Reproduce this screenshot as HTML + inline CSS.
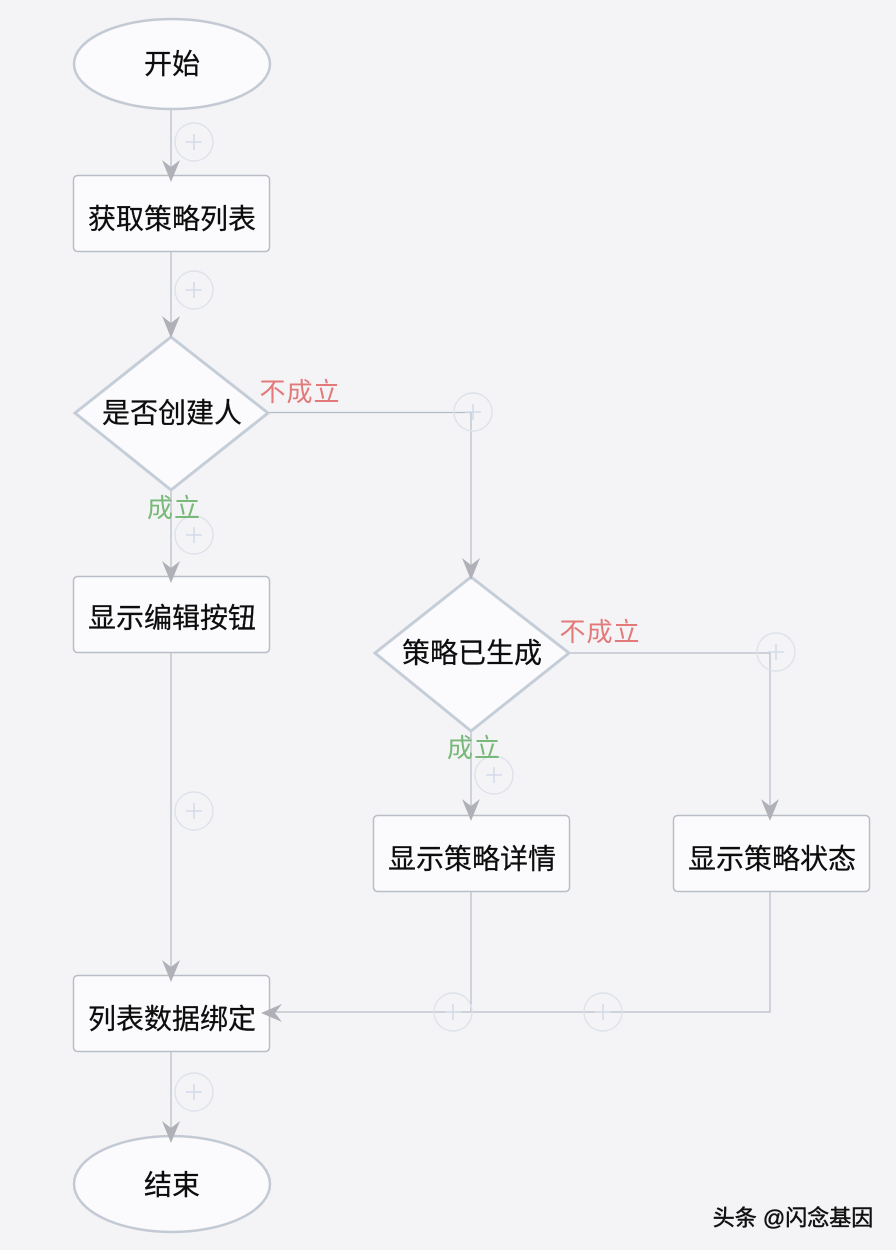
<!DOCTYPE html>
<html><head><meta charset="utf-8">
<style>
html,body{margin:0;padding:0;background:#f4f4f7;}
svg{display:block;}
text{font-family:"Liberation Sans","Noto Sans CJK SC",sans-serif;}
</style></head>
<body>
<svg width="896" height="1250" viewBox="0 0 896 1250" xmlns="http://www.w3.org/2000/svg">
<rect x="0" y="0" width="896" height="1250" fill="#f4f4f7"/>
<!-- connector lines -->
<g stroke="#b6bcc6" stroke-width="1.2" fill="none">
  <line x1="171" y1="110" x2="171" y2="176"/>
  <line x1="171" y1="252" x2="171" y2="336"/>
  <polyline points="269,412.5 471,412.5 471,576"/>
  <line x1="171" y1="490" x2="171" y2="577"/>
  <polyline points="569,653 770,653 770,815"/>
  <line x1="471" y1="731" x2="471" y2="815"/>
  <line x1="471" y1="892" x2="471" y2="1012"/>
  <polyline points="770,892 770,1012 275,1012"/>
  <line x1="171" y1="652" x2="171" y2="976"/>
  <line x1="171" y1="1052" x2="171" y2="1136"/>
</g>
<!-- plus circles -->
<g stroke="#dde2ea" stroke-width="1.4" fill="none">
  <circle cx="194" cy="142" r="19"/>
  <circle cx="194" cy="290" r="19"/>
  <circle cx="473" cy="412" r="19"/>
  <circle cx="194" cy="535" r="19"/>
  <circle cx="776" cy="652" r="19"/>
  <circle cx="494" cy="775" r="19"/>
  <circle cx="194" cy="811" r="19"/>
  <circle cx="453" cy="1012" r="19"/>
  <circle cx="603" cy="1012" r="19"/>
  <circle cx="194" cy="1092" r="19"/>
</g>
<g stroke="#d3dcea" stroke-width="1.6" fill="none">
  <path d="M194 134v16M186 142h16"/>
  <path d="M194 282v16M186 290h16"/>
  <path d="M473 404v16M465 412h16"/>
  <path d="M194 527v16M186 535h16"/>
  <path d="M776 644v16M768 652h16"/>
  <path d="M494 767v16M486 775h16"/>
  <path d="M194 803v16M186 811h16"/>
  <path d="M453 1004v16M445 1012h16"/>
  <path d="M603 1004v16M595 1012h16"/>
  <path d="M194 1084v16M186 1092h16"/>
</g>
<!-- nodes -->
<g fill="#fbfbfd">
  <ellipse cx="172" cy="64" rx="98" ry="45" stroke="#c4cad4" stroke-width="2.5"/>
  <rect x="73.5" y="175.5" width="196" height="76" rx="4" stroke="#b8bdc6" stroke-width="1.5"/>
  <polygon points="171,337 268,413 171,490 75,413" stroke="#c5cdd8" stroke-width="3"/>
  <rect x="73.5" y="576.5" width="196" height="76" rx="4" stroke="#b8bdc6" stroke-width="1.5"/>
  <polygon points="471,577 569,653 471,731 375,653" stroke="#c5cdd8" stroke-width="3"/>
  <rect x="373.5" y="815.5" width="196" height="76" rx="4" stroke="#b8bdc6" stroke-width="1.5"/>
  <rect x="673.5" y="815.5" width="196" height="76" rx="4" stroke="#b8bdc6" stroke-width="1.5"/>
  <rect x="73.5" y="975.5" width="196" height="76" rx="4" stroke="#b8bdc6" stroke-width="1.5"/>
  <ellipse cx="172" cy="1184" rx="98" ry="48" stroke="#c4cad4" stroke-width="2.5"/>
</g>
<!-- arrowheads -->
<g fill="#b0b1b8">
  <path d="M171 182 L162 160 L171 167 L180 160 Z"/>
  <path d="M171 338 L162 316 L171 323 L180 316 Z"/>
  <path d="M471 580 L462 558 L471 565 L480 558 Z"/>
  <path d="M171 583 L162 561 L171 568 L180 561 Z"/>
  <path d="M471 821 L462 799 L471 806 L480 799 Z"/>
  <path d="M770 821 L761 799 L770 806 L779 799 Z"/>
  <path d="M171 982 L162 960 L171 967 L180 960 Z"/>
  <path d="M171 1143 L162 1121 L171 1128 L180 1121 Z"/>
  <path d="M261 1013 L282 1004 L275 1013 L282 1022 Z"/>
</g>
<!-- node labels -->
<g font-size="28" fill="#0d0d0d" text-anchor="middle" dominant-baseline="central" stroke="#0d0d0d" stroke-width="0.25">
  <text x="172" y="64">开始</text>
  <text x="172" y="219">获取策略列表</text>
  <text x="172" y="413">是否创建人</text>
  <text x="172" y="618">显示编辑按钮</text>
  <text x="472" y="653">策略已生成</text>
  <text x="472" y="859">显示策略详情</text>
  <text x="772" y="859">显示策略状态</text>
  <text x="172" y="1019">列表数据绑定</text>
  <text x="172" y="1185">结束</text>
</g>
<!-- connector labels -->
<g font-size="26" text-anchor="middle" dominant-baseline="central" letter-spacing="1">
  <text x="300" y="392" fill="#e27a7a">不成立</text>
  <text x="174" y="508" fill="#78b878">成立</text>
  <text x="600" y="632" fill="#e27a7a">不成立</text>
  <text x="474" y="748" fill="#78b878">成立</text>
</g>
<!-- watermark -->
<text x="793" y="1218" font-size="22" fill="#111" text-anchor="middle" dominant-baseline="central" stroke="#111" stroke-width="0.5">头条 @闪念基因</text>
</svg>
</body></html>
